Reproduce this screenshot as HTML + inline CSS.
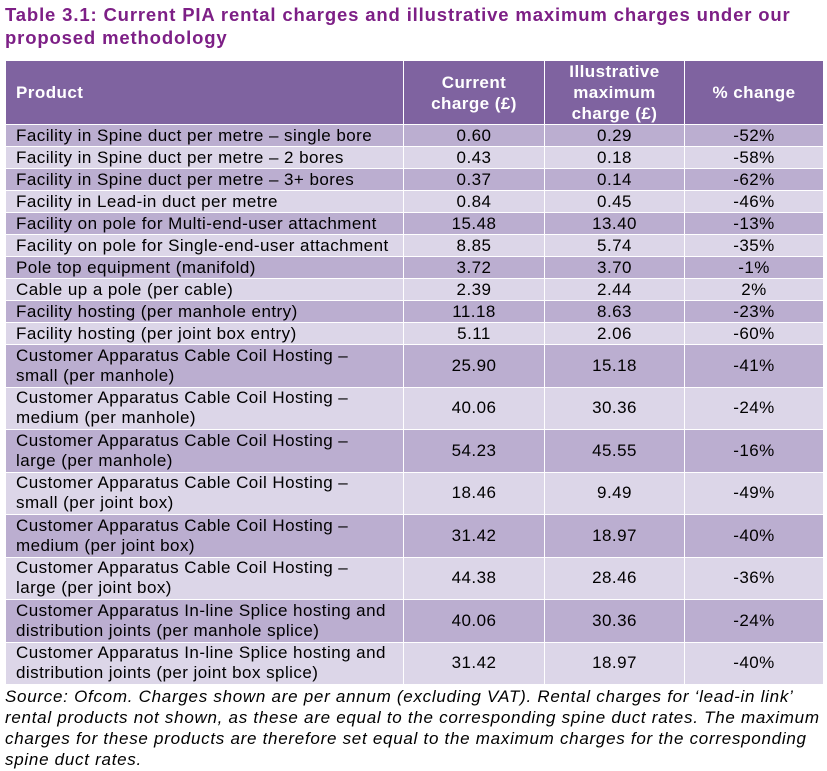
<!DOCTYPE html>
<html><head><meta charset="utf-8"><style>
body{margin:0;background:#fff;width:827px;height:771px;overflow:hidden;font-family:"Liberation Sans",Arial,sans-serif;}
.title{position:absolute;left:5px;top:3px;width:822px;color:#7D1F86;font-weight:bold;font-size:18.5px;letter-spacing:0.85px;line-height:23px;white-space:nowrap;}
table{position:absolute;left:5px;top:60px;border-collapse:collapse;table-layout:fixed;width:818px;}
td,th{border:1px solid #fff;padding:0 0 0 10px;font-size:17px;letter-spacing:0.45px;color:#000;font-weight:normal;white-space:nowrap;}
th{background:#7F63A0;color:#fff;font-weight:bold;height:62px;line-height:21px;}
th.c,td.c{text-align:center;padding:0;}
th.l{text-align:left;}
tr.s td{height:21px;line-height:20px;}
tr.d td{height:41.5px;line-height:20px;}
tr.o td{background:#BBAED0;}
tr.e td{background:#DCD6E8;}
.src{position:absolute;left:5px;top:686px;width:822px;font-style:italic;font-size:17px;letter-spacing:0.72px;line-height:21px;color:#000;white-space:nowrap;}
</style></head><body>
<div class="title">Table 3.1: Current PIA rental charges and illustrative maximum charges under our<br>proposed methodology</div>
<table>
<colgroup><col style="width:398px"><col style="width:141px"><col style="width:140px"><col style="width:139px"></colgroup>
<tr><th class="l">Product</th><th class="c">Current<br>charge (£)</th><th class="c">Illustrative<br>maximum<br>charge (£)</th><th class="c">% change</th></tr>
<tr class="s o"><td>Facility in Spine duct per metre – single bore</td><td class="c">0.60</td><td class="c">0.29</td><td class="c">-52%</td></tr>
<tr class="s e"><td>Facility in Spine duct per metre – 2 bores</td><td class="c">0.43</td><td class="c">0.18</td><td class="c">-58%</td></tr>
<tr class="s o"><td>Facility in Spine duct per metre – 3+ bores</td><td class="c">0.37</td><td class="c">0.14</td><td class="c">-62%</td></tr>
<tr class="s e"><td>Facility in Lead-in duct per metre</td><td class="c">0.84</td><td class="c">0.45</td><td class="c">-46%</td></tr>
<tr class="s o"><td>Facility on pole for Multi-end-user attachment</td><td class="c">15.48</td><td class="c">13.40</td><td class="c">-13%</td></tr>
<tr class="s e"><td>Facility on pole for Single-end-user attachment</td><td class="c">8.85</td><td class="c">5.74</td><td class="c">-35%</td></tr>
<tr class="s o"><td>Pole top equipment (manifold)</td><td class="c">3.72</td><td class="c">3.70</td><td class="c">-1%</td></tr>
<tr class="s e"><td>Cable up a pole (per cable)</td><td class="c">2.39</td><td class="c">2.44</td><td class="c">2%</td></tr>
<tr class="s o"><td>Facility hosting (per manhole entry)</td><td class="c">11.18</td><td class="c">8.63</td><td class="c">-23%</td></tr>
<tr class="s e"><td>Facility hosting (per joint box entry)</td><td class="c">5.11</td><td class="c">2.06</td><td class="c">-60%</td></tr>
<tr class="d o"><td>Customer Apparatus Cable Coil Hosting –<br>small (per manhole)</td><td class="c">25.90</td><td class="c">15.18</td><td class="c">-41%</td></tr>
<tr class="d e"><td>Customer Apparatus Cable Coil Hosting –<br>medium (per manhole)</td><td class="c">40.06</td><td class="c">30.36</td><td class="c">-24%</td></tr>
<tr class="d o"><td>Customer Apparatus Cable Coil Hosting –<br>large (per manhole)</td><td class="c">54.23</td><td class="c">45.55</td><td class="c">-16%</td></tr>
<tr class="d e"><td>Customer Apparatus Cable Coil Hosting –<br>small (per joint box)</td><td class="c">18.46</td><td class="c">9.49</td><td class="c">-49%</td></tr>
<tr class="d o"><td>Customer Apparatus Cable Coil Hosting –<br>medium (per joint box)</td><td class="c">31.42</td><td class="c">18.97</td><td class="c">-40%</td></tr>
<tr class="d e"><td>Customer Apparatus Cable Coil Hosting –<br>large (per joint box)</td><td class="c">44.38</td><td class="c">28.46</td><td class="c">-36%</td></tr>
<tr class="d o"><td>Customer Apparatus In-line Splice hosting and<br>distribution joints (per manhole splice)</td><td class="c">40.06</td><td class="c">30.36</td><td class="c">-24%</td></tr>
<tr class="d e"><td>Customer Apparatus In-line Splice hosting and<br>distribution joints (per joint box splice)</td><td class="c">31.42</td><td class="c">18.97</td><td class="c">-40%</td></tr>
</table>
<div class="src">Source: Ofcom. Charges shown are per annum (excluding VAT). Rental charges for ‘lead-in link’<br>rental products not shown, as these are equal to the corresponding spine duct rates. The maximum<br>charges for these products are therefore set equal to the maximum charges for the corresponding<br>spine duct rates.</div>
</body></html>
